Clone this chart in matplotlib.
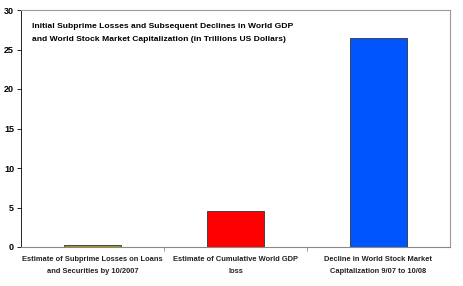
import matplotlib
matplotlib.use("Agg")
import matplotlib.pyplot as plt

categories = ["Estimate of Subprime Losses on Loans\nand Securities by 10/2007",
              "Estimate of Cumulative World GDP\nloss",
              "Decline in World Stock Market\nCapitalization 9/07 to 10/08"]
values = [0.25, 4.5, 26.4]
colors = ["#9A9A10", "#FF0000", "#0055FF"]
yticks = [0, 5, 10, 15, 20, 25, 30]

fig = plt.figure(figsize=(4.64, 2.86), dpi=100)
ax = fig.add_axes([21 / 464, 1 - 247 / 286, 429 / 464, 237 / 286])

x = range(len(values))
ax.bar(x, values, width=0.4, color=colors, edgecolor="#333333", linewidth=0.6)
ax.set_xlim(-0.5, 2.5)
ax.set_ylim(0, 30)
ax.set_yticks(yticks)
ax.set_yticklabels([str(t) for t in yticks], fontsize=6.5, fontweight="bold",
                   family="Liberation Sans")
ax.tick_params(axis="y", length=3, width=0.6, pad=2)

# category labels centred under each bar, ticks at category boundaries
ax.set_xticks([0.5, 1.5])
ax.set_xticklabels([])
ax.tick_params(axis="x", length=3, width=0.6, color="#888888")
for i, lab in enumerate(categories):
    ax.text(i, -1.2, lab, ha="center", va="top", fontsize=5.4,
            fontweight="bold", family="Liberation Sans", color="#222222",
            transform=ax.transData, linespacing=1.9)

for side in ("top", "right"):
    ax.spines[side].set_color("#999999")
    ax.spines[side].set_linewidth(0.8)
ax.spines["left"].set_linewidth(0.6)
ax.spines["bottom"].set_color("#888888")
ax.spines["bottom"].set_linewidth(0.8)

ax.text(0.025, 0.945, "Initial Subprime Losses and Subsequent Declines in World GDP\n"
        "and World Stock Market Capitalization (in Trillions US Dollars)",
        transform=ax.transAxes, ha="left", va="top", fontsize=6.1,
        fontweight="bold", family="Liberation Sans", linespacing=2.1)

fig.savefig("out.png", dpi=100)
